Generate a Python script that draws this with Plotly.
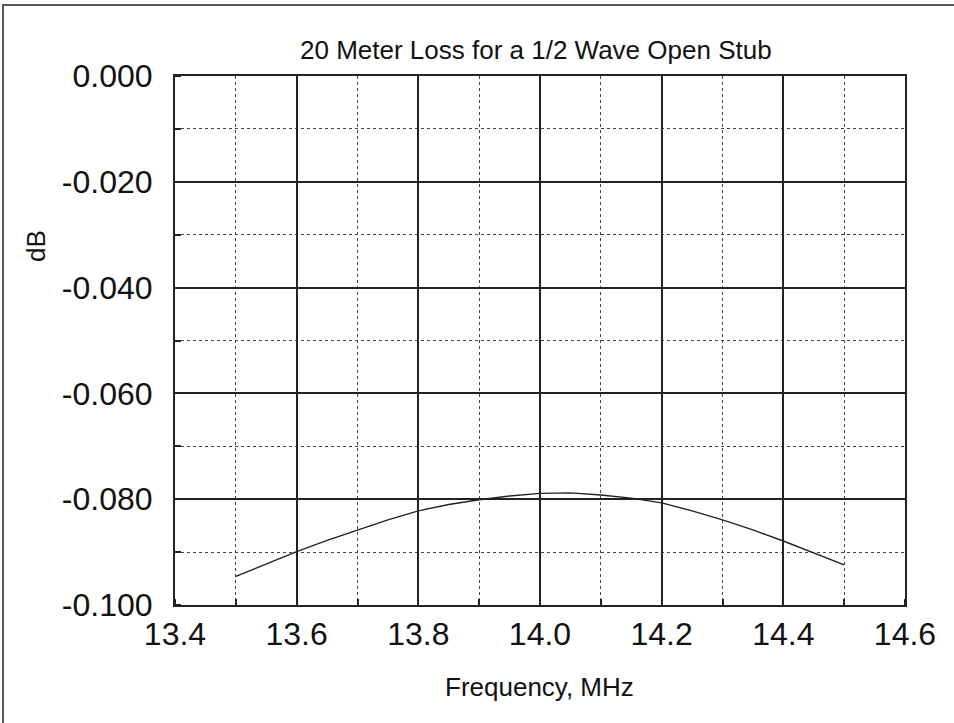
import plotly.graph_objects as go

# frequency, MHz and loss, dB
freq = [13.50, 13.55, 13.60, 13.65, 13.70, 13.75, 13.80, 13.85, 13.90, 13.95,
        14.00, 14.05, 14.10, 14.15, 14.20, 14.25, 14.30, 14.35, 14.40, 14.45, 14.50]
loss_db = [-0.0946, -0.0922, -0.0899, -0.0878, -0.0858, -0.0839, -0.0822, -0.0810,
           -0.0801, -0.0794, -0.0789, -0.0788, -0.0792, -0.0798, -0.0807, -0.0822,
           -0.0839, -0.0858, -0.0879, -0.0901, -0.0924]

x_ticks = [13.4, 13.6, 13.8, 14.0, 14.2, 14.4, 14.6]
x_ticktext = ["13.4", "13.6", "13.8", "14.0", "14.2", "14.4", "14.6"]
y_ticks = [0.0, -0.02, -0.04, -0.06, -0.08, -0.1]
y_ticktext = ["0.000", "-0.020", "-0.040", "-0.060", "-0.080", "-0.100"]

title = "20 Meter Loss for a 1/2 Wave Open Stub"
x_title = "Frequency, MHz"
y_title = "dB"

W, H = 954, 723
L, R, T, B = 175, 49, 76, 118
pw, ph = W - L - R, H - T - B

font = "Liberation Sans, Arial, sans-serif"

fig = go.Figure()
fig.add_trace(go.Scatter(x=freq, y=loss_db, mode="lines",
                         line=dict(color="#222222", width=1.4),
                         hoverinfo="x+y", showlegend=False))

axis_common = dict(
    showline=True, mirror=True, linecolor="#222222", linewidth=2,
    showgrid=True, gridcolor="#222222", gridwidth=1.5,
    zeroline=False, ticks="", automargin=False,
    tickfont=dict(family=font, size=32, color="#111111"),
)

fig.update_xaxes(range=[13.4, 14.6], tickvals=x_ticks, ticktext=x_ticktext,
                 ticklabelstandoff=0,
                 minor=dict(dtick=0.1, tick0=13.4, showgrid=True, griddash="dot",
                            gridcolor="#444444", gridwidth=1.2,
                            ticks="inside", ticklen=6, tickcolor="#222222", tickwidth=1.5),
                 **axis_common)
fig.update_yaxes(range=[-0.1, 0.0], tickvals=y_ticks, ticktext=y_ticktext,
                 ticklabelstandoff=14,
                 minor=dict(dtick=0.01, tick0=0, showgrid=True, griddash="dot",
                            gridcolor="#444444", gridwidth=1.2,
                            ticks="inside", ticklen=6, tickcolor="#222222", tickwidth=1.5),
                 **axis_common)

def px_x(p):
    return (p - L) / pw

def px_y(p):
    return 1 - (p - T) / ph

fig.add_annotation(text=title, xref="paper", yref="paper", x=px_x(536), y=px_y(50),
                   showarrow=False, xanchor="center", yanchor="middle",
                   font=dict(family=font, size=26, color="#111111"))
fig.add_annotation(text=x_title, xref="paper", yref="paper", x=px_x(539), y=px_y(687),
                   showarrow=False, xanchor="center", yanchor="middle",
                   font=dict(family=font, size=26, color="#111111"))
fig.add_annotation(text=y_title, xref="paper", yref="paper", x=px_x(36), y=px_y(246),
                   showarrow=False, xanchor="center", yanchor="middle", textangle=-90,
                   font=dict(family=font, size=26, color="#111111"))

# outer frame of the picture (right and bottom edges fall outside the image)
fig.add_shape(type="rect", xref="paper", yref="paper",
              x0=px_x(3), y0=px_y(H + 20), x1=px_x(W + 20), y1=px_y(5),
              line=dict(color="#555555", width=2), layer="below")

fig.update_layout(width=W, height=H, margin=dict(l=L, r=R, t=T, b=B),
                  paper_bgcolor="white", plot_bgcolor="white")

# drop the browser's default body margin so the figure sits at the page corner
fig.write_html("out.html", config={"displayModeBar": False},
               post_script="document.body.style.margin='0';document.body.style.overflow='hidden';")
